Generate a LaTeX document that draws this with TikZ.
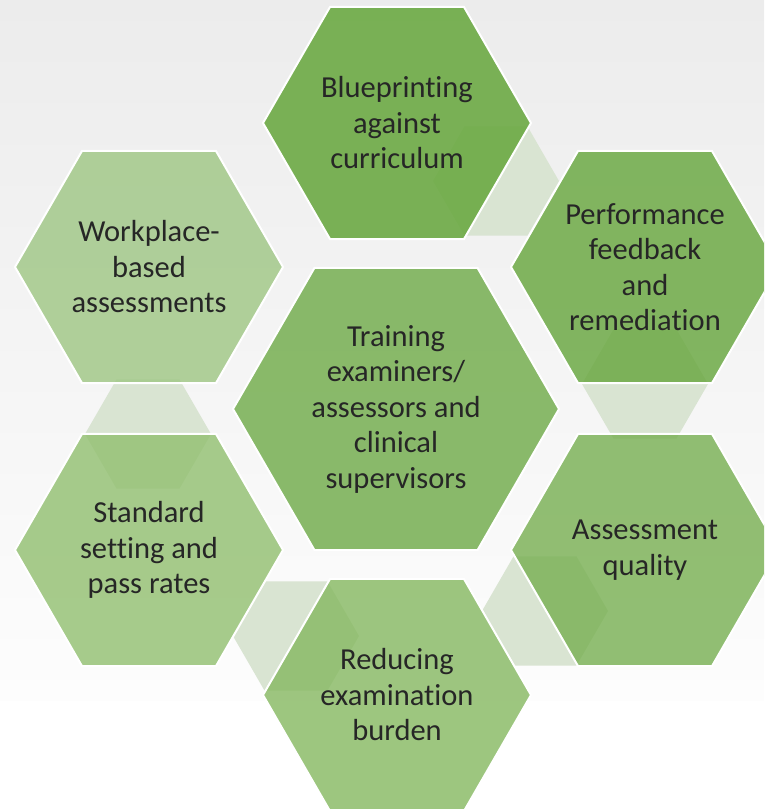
\documentclass[tikz,border=0pt]{standalone}
\usepackage{fontspec}
\setmainfont{Carlito}[Ligatures=NoCommon]
\usepackage{tikz}
\usetikzlibrary{shapes.geometric}

\definecolor{bgtop}{RGB}{236,236,236}
\definecolor{bgbottom}{RGB}{253,253,253}
\definecolor{linkfill}{RGB}{217,228,210}
\definecolor{txt}{RGB}{38,38,38}
% hexagon greens, darkest to lightest
\definecolor{hexA}{RGB}{105,168,64}
\definecolor{hexB}{RGB}{101,165,59}
\definecolor{hexC}{RGB}{110,170,71}
\definecolor{hexD}{RGB}{119,175,81}
\definecolor{hexE}{RGB}{133,184,96}
\definecolor{hexF}{RGB}{145,191,111}
\definecolor{hexG}{RGB}{158,198,131}

\begin{document}
\begin{tikzpicture}[x=1pt,y=-1pt,
  hexa/.style={regular polygon,regular polygon sides=6,minimum size=268pt,inner sep=0pt,
    draw=white,line width=2pt,fill opacity=0.8,text opacity=1,text=txt,align=center,
    font=\fontsize{30.5}{35.5}\selectfont},
  link/.style={regular polygon,regular polygon sides=6,minimum size=126pt,inner sep=0pt,
    fill=linkfill}]
  \useasboundingbox (0,0) rectangle (764,809);
  \clip (0,0) rectangle (764,809);
  % backdrop
  \fill[white] (0,0) rectangle (764,809);
  \shade[top color=bgtop,bottom color=bgbottom] (0,0) rectangle (764,700);
  % pale links between neighbouring hexagons
  \node[link] (link1) at (496,181) {};
  \node[link] (link2) at (645,384) {};
  \node[link] (link3) at (545,611) {};
  \node[link] (link4) at (296,636) {};
  \node[link] (link5) at (148,434) {};
  % outer ring
  \node[hexa,fill=hexA,fill opacity=0.88] (blueprint) at (397,123) {Blueprinting\\against\\curriculum};
  \node[hexa,fill=hexB] (feedback) at (645,267) {Performance\\feedback\\and\\remediation};
  \node[hexa,fill=hexD] (quality) at (645,550) {Assessment\\quality};
  \node[hexa,fill=hexE] (burden) at (397,695) {Reducing\\examination\\burden};
  \node[hexa,fill=hexF] (standard) at (149,550) {Standard\\setting and\\pass rates};
  \node[hexa,fill=hexG] (workplace) at (149,267) {Workplace-\\based\\assessments};
  % centre
  \node[hexa,fill=hexC,minimum size=326pt] (training) at (396,409)
    {Training\\examiners/\\assessors and\\clinical\\supervisors};
\end{tikzpicture}
\end{document}
